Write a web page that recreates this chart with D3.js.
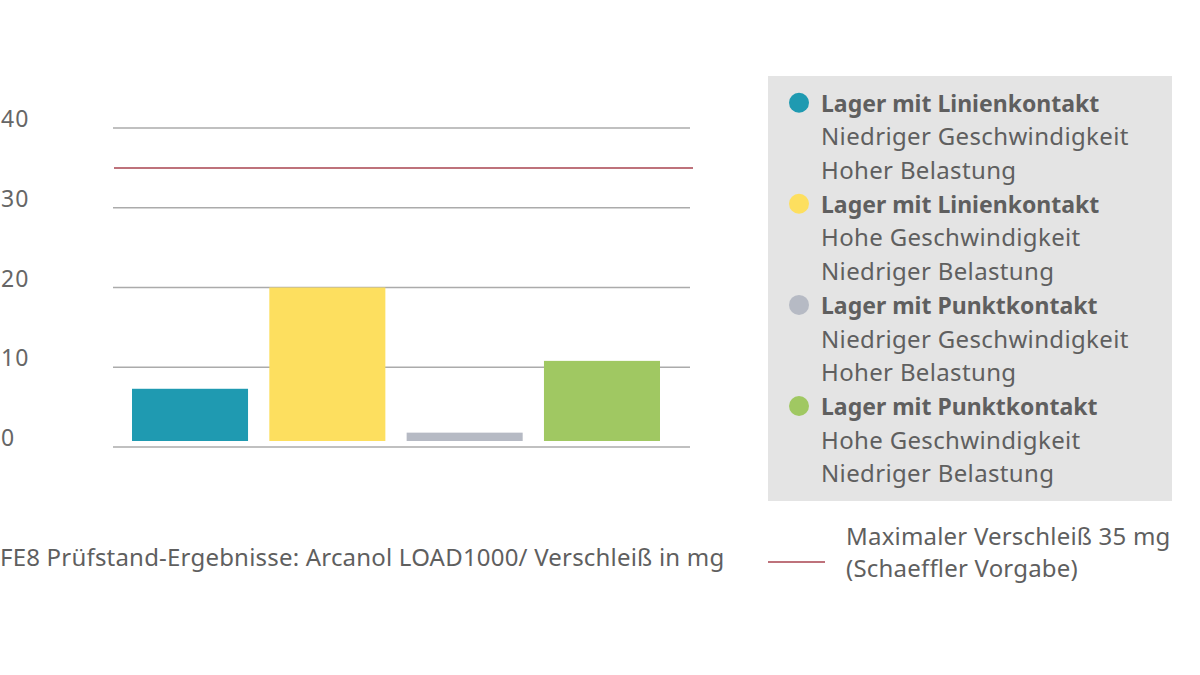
<!DOCTYPE html>
<html lang="de">
<head>
<meta charset="UTF-8" />
<title>FE8 Prüfstand-Ergebnisse</title>
<style>
  body { margin: 0; background: #fff; }
  svg { display: block; font-family: "Noto Sans", "Open Sans", sans-serif; }
  .tick-label { font-size: 23px; fill: #666; letter-spacing: 1px; }
  .grid { stroke: #ababab; stroke-width: 1.5px; }
  .limit { stroke: #a8434f; stroke-width: 1.5px; }
  .legend-title { font-size: 23px; font-weight: bold; fill: #5f5f5f; }
  .legend-sub { font-size: 24px; fill: #5f5f5f; letter-spacing: 0.35px; }
  .caption { font-size: 24px; fill: #5f5f5f; letter-spacing: 0.2px; }
</style>
</head>
<body>
<div id="chart"></div>
<script src="https://d3js.org/d3.v7.min.js"></script>
<script>
  // Werte (Verschleiß in mg)
  const categories = ['Linie / niedrig v', 'Linie / hoch v', 'Punkt / niedrig v', 'Punkt / hoch v'];
  const values = [7.3, 20, 1.8, 10.8];
  const colors = ['#1f9ab1', '#fddf5f', '#b6bac4', '#a0c862'];
  const legendTitles = ['Lager mit Linienkontakt', 'Lager mit Linienkontakt', 'Lager mit Punktkontakt', 'Lager mit Punktkontakt'];
  const legendLines = [
    ['Niedriger Geschwindigkeit', 'Hoher Belastung'],
    ['Hohe Geschwindigkeit', 'Niedriger Belastung'],
    ['Niedriger Geschwindigkeit', 'Hoher Belastung'],
    ['Hohe Geschwindigkeit', 'Niedriger Belastung']
  ];
  const yTicks = [0, 10, 20, 30, 40];
  const maxWear = 35;
  const caption = 'FE8 Prüfstand-Ergebnisse: Arcanol LOAD1000/ Verschleiß in mg';
  const limitLabel = ['Maximaler Verschleiß 35 mg', '(Schaeffler Vorgabe)'];

  const width = 1200, height = 675;

  const svg = d3.select('#chart').append('svg')
    .attr('width', width)
    .attr('height', height);

  const y = d3.scaleLinear().domain([0, 40]).range([447, 128]);
  const x = d3.scaleBand().domain(categories).range([132, 660]).paddingInner(0.155);

  // Gitterlinien
  svg.append('g')
    .selectAll('line')
    .data(yTicks)
    .enter().append('line')
    .attr('class', 'grid')
    .attr('x1', 113)
    .attr('x2', 690)
    .attr('y1', d => y(d))
    .attr('y2', d => y(d));

  svg.append('g')
    .selectAll('text')
    .data(yTicks)
    .enter().append('text')
    .attr('class', 'tick-label')
    .attr('x', 1)
    .attr('y', d => y(d) - 1)
    .text(d => d);

  // Balken (stehen etwas über der Nulllinie)
  const baseGap = 6;
  svg.append('g')
    .selectAll('rect')
    .data(values)
    .enter().append('rect')
    .attr('x', (d, i) => x(categories[i]))
    .attr('width', x.bandwidth())
    .attr('y', d => y(d))
    .attr('height', d => y(0) - baseGap - y(d))
    .attr('fill', (d, i) => colors[i]);

  // Grenzwert
  svg.append('line')
    .attr('class', 'limit')
    .attr('x1', 114)
    .attr('x2', 693)
    .attr('y1', y(maxWear))
    .attr('y2', y(maxWear));

  // Legende
  svg.append('rect')
    .attr('x', 768)
    .attr('y', 76)
    .attr('width', 404)
    .attr('height', 425)
    .attr('fill', '#e4e4e4');

  const lineH = 33.7;
  const legend = svg.append('g')
    .selectAll('g')
    .data(legendTitles)
    .enter().append('g')
    .attr('transform', (d, i) => `translate(0,${111.7 + i * 3 * lineH})`);

  legend.append('circle')
    .attr('cx', 799)
    .attr('cy', -9)
    .attr('r', 10)
    .attr('fill', (d, i) => colors[i]);

  legend.append('text')
    .attr('class', 'legend-title')
    .attr('x', 821)
    .attr('y', 0)
    .text(d => d);

  legend.each(function (d, i) {
    d3.select(this).selectAll('text.legend-sub')
      .data(legendLines[i])
      .enter().append('text')
      .attr('class', 'legend-sub')
      .attr('x', 821)
      .attr('y', (t, j) => (j + 1) * lineH)
      .text(t => t);
  });

  // Beschriftung unten
  svg.append('text')
    .attr('class', 'caption')
    .attr('x', 0)
    .attr('y', 566)
    .text(caption);

  svg.append('line')
    .attr('class', 'limit')
    .attr('x1', 768)
    .attr('x2', 825)
    .attr('y1', 562)
    .attr('y2', 562);

  svg.append('g')
    .selectAll('text')
    .data(limitLabel)
    .enter().append('text')
    .attr('class', 'caption')
    .attr('x', 846)
    .attr('y', (d, i) => 545 + i * 32)
    .text(d => d);
</script>
</body>
</html>
